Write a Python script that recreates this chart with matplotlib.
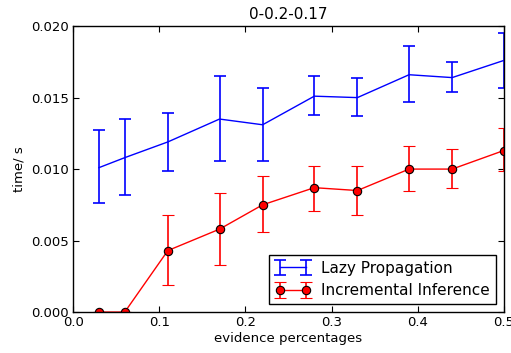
import matplotlib
matplotlib.use("Agg")
import matplotlib.pyplot as plt

x = [0.03, 0.06, 0.11, 0.17, 0.22, 0.28, 0.33, 0.39, 0.44, 0.5]
lazy_mean = [0.0101, 0.0108, 0.0119, 0.0135, 0.0131, 0.0151, 0.0150, 0.0166, 0.0164, 0.0176]
lazy_low = [0.0076, 0.0082, 0.0099, 0.0106, 0.0106, 0.0138, 0.0137, 0.0147, 0.0154, 0.0157]
lazy_high = [0.0127, 0.0135, 0.0139, 0.0165, 0.0157, 0.0165, 0.0164, 0.0186, 0.0175, 0.0195]
inc_mean = [0.0, 0.0, 0.0043, 0.0058, 0.0075, 0.0087, 0.0085, 0.0100, 0.0100, 0.0113]
inc_low = [0.0, 0.0, 0.0019, 0.0033, 0.0056, 0.0071, 0.0068, 0.0085, 0.0087, 0.0099]
inc_high = [0.0, 0.0, 0.0068, 0.0083, 0.0095, 0.0102, 0.0102, 0.0116, 0.0114, 0.0129]

plt.rcParams['font.family'] = ['DejaVu Sans']
fig = plt.figure(figsize=(5.11, 3.53), dpi=100)
ax = fig.add_axes([0.143, 0.116, 0.843, 0.81])

lerr = [[m - l for m, l in zip(lazy_mean, lazy_low)], [h - m for m, h in zip(lazy_mean, lazy_high)]]
ierr = [[m - l for m, l in zip(inc_mean, inc_low)], [h - m for m, h in zip(inc_mean, inc_high)]]

ax.errorbar(x, lazy_mean, yerr=lerr, color='blue', ecolor='blue', capsize=4, capthick=1.2,
            elinewidth=1.2, linewidth=1.0, label='Lazy Propagation')
ax.errorbar(x, inc_mean, yerr=ierr, color='red', ecolor='red', marker='o', markersize=6,
            markerfacecolor='red', markeredgecolor='black', markeredgewidth=0.8,
            capsize=4, capthick=1.2, elinewidth=1.2, linewidth=1.0, label='Incremental Inference')

ax.set_xlim(0, 0.5)
ax.set_ylim(0, 0.02)
ax.set_xticks([0.0, 0.1, 0.2, 0.3, 0.4, 0.5])
ax.set_xticklabels(['0.0', '0.1', '0.2', '0.3', '0.4', '0.5'])
ax.set_yticks([0.0, 0.005, 0.01, 0.015, 0.02])
ax.set_yticklabels(['0.000', '0.005', '0.010', '0.015', '0.020'])
ax.tick_params(direction='in', top=True, right=True, length=4, labelsize=9.5, pad=3)
for s in ax.spines.values():
    s.set_linewidth(1.0)
ax.set_xlabel('evidence percentages', fontsize=9.5, labelpad=2)
ax.set_ylabel('time/ s', fontsize=9.5)
ax.set_title('0-0.2-0.17', fontsize=11, pad=5)

leg = ax.legend(loc='lower right', fontsize=11, fancybox=False, framealpha=1,
                edgecolor='black', borderaxespad=0.5, handlelength=2.3, handletextpad=0.7,
                numpoints=2)
leg.get_frame().set_linewidth(1.0)

fig.savefig('out.png', dpi=100)
